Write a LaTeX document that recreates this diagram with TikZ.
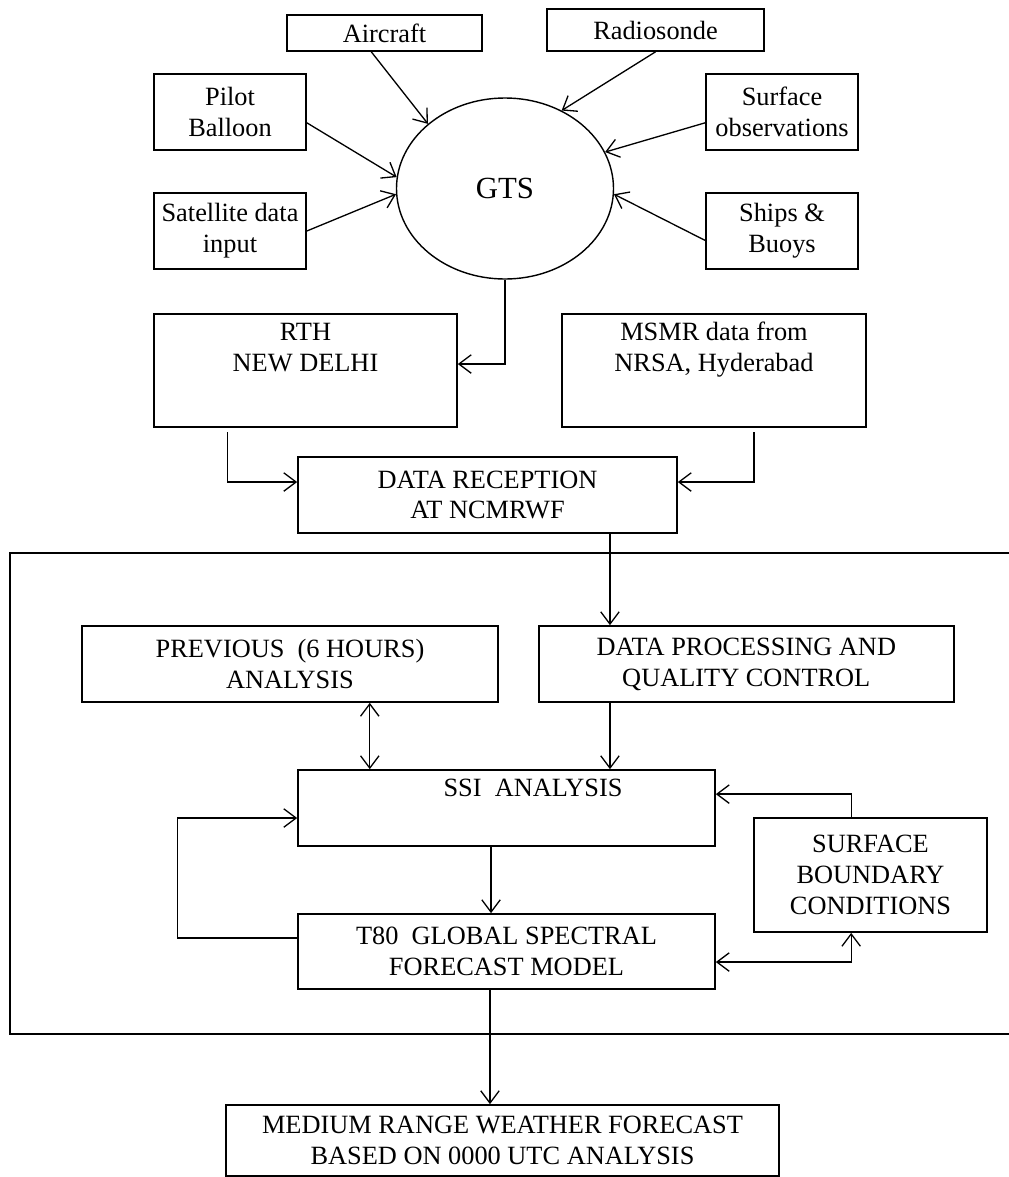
\documentclass[tikz,border=0pt]{standalone}
\usepackage{fontspec}
\setmainfont{Liberation Serif}
\usetikzlibrary{arrows.meta,shapes.geometric}

\begin{document}
\begin{tikzpicture}[x=0.02cm,y=-0.02cm,
  font=\fontsize{15}{17.6}\selectfont,
  >={Straight Barb[length=7pt,width=10.5pt]},
  box/.style={draw,line width=0.95pt,inner sep=0pt,align=center},
  sz/.style 2 args={minimum width=#1*0.02cm,minimum height=#2*0.02cm},
  conn/.style={line width=0.75pt},
  lbl/.style={inner sep=0pt,anchor=north,align=center}]
\useasboundingbox (0,0) rectangle (1008,1177);
\node[box,sz={195}{36}] (air) at (384.5,33) {Aircraft};
\node[box,sz={217}{42}] (radio) at (655.5,30) {Radiosonde};
\node[box,sz={152}{76}] (pilot) at (230,112) {Pilot\\Balloon};
\node[box,sz={152}{76}] (sat) at (230,231) {Satellite data\\input};
\node[box,sz={152}{76}] (sobs) at (782,112) {Surface\\observations};
\node[box,sz={152}{76}] (ships) at (782,231) {Ships \&\\Buoys};
\node[draw,ellipse,line width=0.8pt,inner sep=0pt,sz={217}{181},font=\fontsize{17.5}{20}\selectfont] (gts) at (505,188.5) {GTS};
\draw[->,conn] (air.235) -- (gts.140);
\draw[->,conn] (radio.south) -- (gts.54);
\draw[->,conn] (pilot.352) -- (gts.174);
\draw[->,conn] (sat.east) -- (gts.183);
\draw[->,conn] (sobs.188) -- (gts.20);
\draw[->,conn] (ships.187) -- (gts.357);
\node[box,sz={303}{113}] (rth) at (305.5,370.5) {};
\node[lbl] (rthlbl) at (305.5,323) {RTH\\NEW DELHI};
\node[box,sz={304}{113}] (msmr) at (714,370.5) {};
\node[lbl] (msmrlbl) at (714,322) {MSMR data from\\NRSA, Hyderabad};
\node[box,sz={379}{76}] (data) at (487.5,495) {DATA RECEPTION\\AT NCMRWF};
\draw[->,conn] (gts.south) |- ([yshift=3.7pt]rth.east);
\draw[->,conn,shorten <=2.5pt] ([xshift=-44.5pt]rth.south) |- ([yshift=7.4pt]data.west);
\draw[->,conn,shorten <=2.5pt] ([xshift=22.7pt]msmr.south) |- ([yshift=7.4pt]data.east);
\draw[line width=0.95pt] (10,553) rectangle (1020,1034);
\node[box,sz={416}{76}] (prev) at (290,664) {PREVIOUS\ \ (6 HOURS)\\ANALYSIS};
\node[box,sz={415}{76}] (dproc) at (746.3,664) {DATA PROCESSING AND\\QUALITY CONTROL};
\node[box,sz={417}{76}] (ssi) at (506.5,808) {};
\node[lbl] (ssilbl) at (533,779) {SSI\ \ ANALYSIS};
\node[box,sz={233}{114}] (surf) at (870.5,875) {SURFACE\\BOUNDARY\\CONDITIONS};
\node[box,sz={417}{75}] (t80) at (506.5,951.5) {T80\ \ GLOBAL SPECTRAL\\FORECAST MODEL};
\node[box,sz={553}{71}] (mrf) at (502.5,1140.5) {MEDIUM RANGE WEATHER FORECAST\\BASED ON 0000 UTC ANALYSIS};
\coordinate (d1) at ([xshift=69.7pt]data.south);
\draw[->,conn] (d1) -- (d1 |- dproc.north);
\draw[->,conn] (dproc.south -| d1) -- (ssi.north -| d1);
\coordinate (p1) at ([xshift=45.4pt]prev.south);
\draw[<->,conn] (p1) -- (p1 |- ssi.north);
\draw[->,conn] ([xshift=-11pt]surf.north) |- ([yshift=7.9pt]ssi.east);
\draw[<->,conn] ([yshift=-6pt]t80.east) -| ([xshift=-11pt]surf.south);
\draw[->,conn] ([yshift=7.7pt]t80.west) -- ++(-120,0) |- ([yshift=-5.7pt]ssi.west);
\coordinate (s1) at ([xshift=-8.8pt]ssi.south);
\draw[->,conn] (s1) -- (s1 |- t80.north);
\coordinate (s2) at ([xshift=-9.4pt]t80.south);
\draw[->,conn] (s2) -- (s2 |- mrf.north);
\end{tikzpicture}
\end{document}
